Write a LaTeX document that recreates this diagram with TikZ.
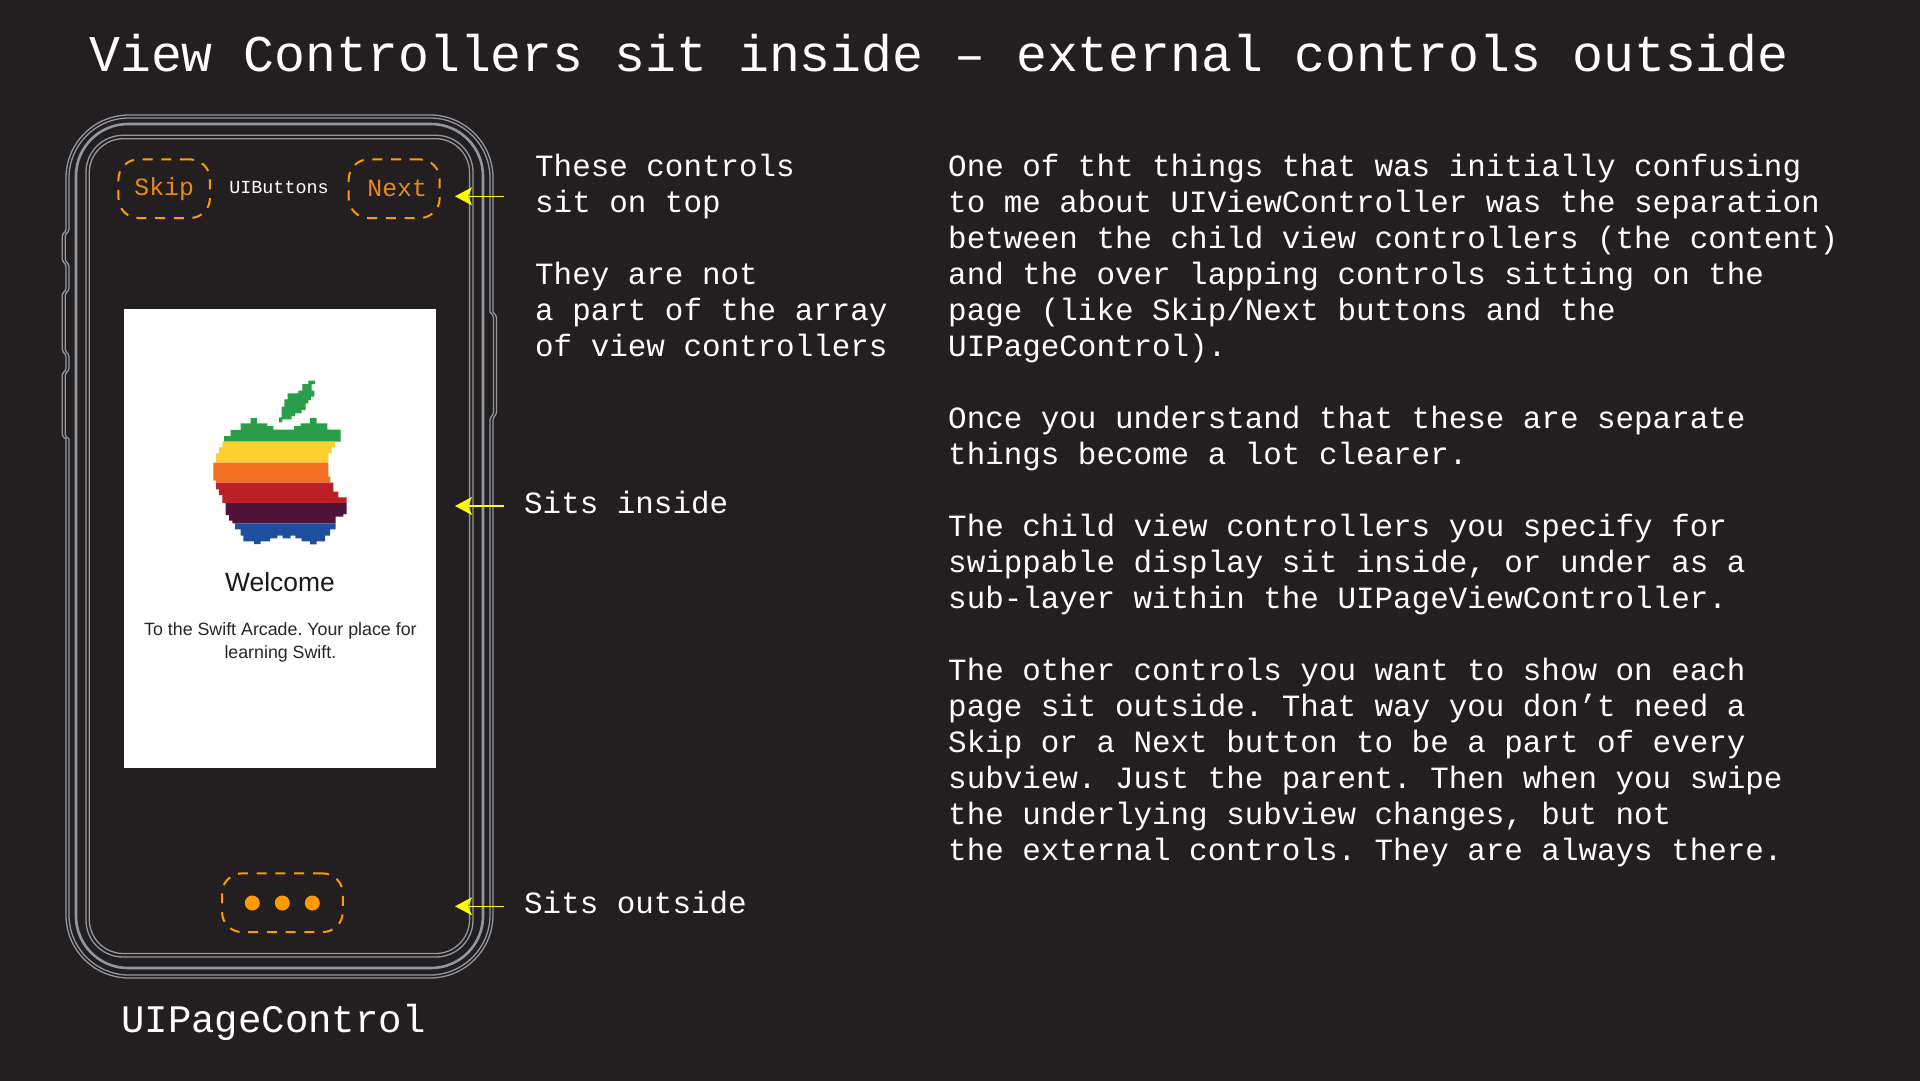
\documentclass[tikz,border=0pt]{standalone}
\usepackage{fontspec}
\setmainfont{Liberation Sans}
\newfontfamily\monof{Liberation Mono}
\usetikzlibrary{arrows.meta}
\definecolor{bgc}{HTML}{231F20}
\definecolor{phonec}{HTML}{92979E}
\definecolor{dashc}{HTML}{FF9A00}
\definecolor{labelc}{HTML}{E8891C}
\definecolor{arrowc}{HTML}{FFFF00}
\definecolor{apgreen}{HTML}{2A9D48}
\definecolor{apyellow}{HTML}{FCD02E}
\definecolor{aporange}{HTML}{F37021}
\definecolor{apred}{HTML}{BC2026}
\definecolor{appurple}{HTML}{4F1339}
\definecolor{apblue}{HTML}{1F4F9F}
\tikzset{
  shellthin/.style={draw=phonec,line width=1.3pt},
  shellthick/.style={draw=phonec,line width=2.6pt},
  dashbox/.style={draw=dashc,line width=2pt,dash pattern=on 10pt off 8.7pt,rounded corners=20pt,inner sep=0pt,
     font=\monof\fontsize{24.8}{28}\selectfont,text=labelc},
  dotmark/.style={circle,fill=dashc,inner sep=0pt,minimum size=15pt},
  body/.style={font=\monof\fontsize{30.9}{36}\selectfont,text=white,align=left,inner sep=0pt,anchor=north west},
  pointer/.style={draw=arrowc,line width=1.5pt,-{Stealth[length=17pt,width=18pt,inset=4pt]}},
}
\begin{document}
\frenchspacing
\begin{tikzpicture}[x=1pt,y=-1pt]
\useasboundingbox (0,0) rectangle (1920,1080);
\fill[bgc] (-6,-6) rectangle (1926,1086);

% phone outline
\foreach \d in {0,3}{
\pgfmathsetmacro{\xl}{66+\d}
\pgfmathsetmacro{\xr}{493-\d}
\pgfmathsetmacro{\yt}{115+\d}
\pgfmathsetmacro{\yb}{978-\d}
\pgfmathsetmacro{\rr}{63-\d}
\pgfmathsetmacro{\kk}{0.4477*\rr}
\draw[shellthin] (\xl,{\yt+\rr}) .. controls (\xl,{\yt+\kk}) and ({\xl+\kk},\yt) .. ({\xl+\rr},\yt)
   -- ({\xr-\rr},\yt) .. controls ({\xr-\kk},\yt) and (\xr,{\yt+\kk}) .. (\xr,{\yt+\rr})
   -- (\xr,312) [rounded corners=1.5pt] -- ({\xr+3.5},316) -- ({\xr+3.5},414) -- (\xr,418) [sharp corners]
   -- (\xr,{\yb-\rr}) .. controls (\xr,{\yb-\kk}) and ({\xr-\kk},\yb) .. ({\xr-\rr},\yb)
   -- ({\xl+\rr},\yb) .. controls ({\xl+\kk},\yb) and (\xl,{\yb-\kk}) .. (\xl,{\yb-\rr})
   -- (\xl,439) [rounded corners=1.5pt] -- ({\xl-3.7},436) -- ({\xl-3.7},373.5) -- (\xl,370) -- (\xl,355)
   -- ({\xl-3.7},351) -- ({\xl-3.7},293.5) -- (\xl,290) -- (\xl,264.5)
   -- ({\xl-3.7},261) -- ({\xl-3.7},234.5) -- (\xl,231) [sharp corners] -- (\xl,{\yt+\rr});
}
\draw[shellthick,rounded corners=52pt] (76,124) rectangle (483,968);
\draw[shellthin,rounded corners=37pt] (86,135.3) rectangle (473,957);
\draw[shellthin,rounded corners=34pt] (89.3,138.7) rectangle (469.6,953.5);

% screen
\node[fill=white,draw=none,inner sep=0pt,minimum width=312pt,minimum height=458.7pt] (screen) at (279.6,538.7) {};

% apple
\begin{scope}[xshift=190pt,yshift=-360pt,x=0.33333pt,y=-0.33333pt]
\fill[apgreen] (355,62)--(375,62)--(375,72)--(365,72)--(365,92)--(373,92)--(373,110)--(363,110)--(363,120)--(355,120)--(355,130)--(347,130)--(347,150)--(335,150)--(335,160)--(315,160)--(315,168)--(305,168)--(305,178)--(277,178)--(277,187)--(267,187)--(267,172)--(275,172)--(275,140)--(283,140)--(283,118)--(293,118)--(293,100)--(325,100)--(325,92)--(337,92)--(337,72)--(355,72)--cycle;
\fill[apgreen] (102,245)--(102,228)--(122,228)--(122,210)--(152,210)--(152,190)--(182,190)--(182,174)--(201,174)--(201,190)--(232,190)--(232,198)--(250,198)--(250,209)--(312,209)--(312,198)--(332,198)--(332,190)--(360,190)--(360,174)--(380,174)--(380,190)--(412,190)--(412,209)--(452,209)--(452,245)--cycle;
\fill[apyellow] (97,245)--(97,262)--(87,262)--(87,280)--(78,280)--(78,308)--(415,308)--(415,280)--(425,280)--(425,262)--(435,262)--(435,245)--cycle;
\fill[aporange] (70,308)--(70,362)--(78,362)--(78,368)--(421,368)--(421,350)--(415,350)--(415,308)--cycle;
\fill[apred] (78,368)--(78,388)--(87,388)--(87,405)--(97,405)--(97,429)--(470,429)--(470,412)--(445,412)--(445,395)--(430,395)--(430,368)--cycle;
\fill[appurple] (107,429)--(107,465)--(117,465)--(117,482)--(127,482)--(127,490)--(437,490)--(437,470)--(460,470)--(460,462)--(470,462)--(470,429)--cycle;
\fill[apblue] (135,490)--(135,508)--(152,508)--(152,527)--(160,527)--(160,544)--(192,544)--(192,552)--(212,552)--(212,544)--(240,544)--(240,535)--(262,535)--(262,527)--(278,527)--(278,535)--(302,535)--(302,527)--(316,527)--(316,535)--(335,535)--(335,544)--(360,544)--(360,553)--(380,553)--(380,544)--(405,544)--(405,527)--(420,527)--(420,508)--(437,508)--(437,490)--cycle;
\end{scope}

\node[anchor=base,inner sep=0pt,text=black!90,font=\fontsize{26.4}{32}\selectfont] (welcome) at (280,591) {Welcome};
\node[anchor=base,inner sep=0pt,text=black!85,font=\fontsize{17.8}{20}\selectfont] (welcomeA) at (280.4,635.5) {To the Swift Arcade. Your place for};
\node[anchor=base,inner sep=0pt,text=black!85,font=\fontsize{17.8}{20}\selectfont] (welcomeB) at (280.4,658) {learning Swift.};

% title
\node[anchor=base west,inner sep=0pt,text=white,font=\monof\fontsize{51.5}{60}\selectfont] (title) at (89,71) {View Controllers sit inside – external controls outside};

% dashed controls
\node[dashbox,minimum width=91.5pt,minimum height=58.7pt] (skip) at (164.2,188.7) {Skip};
\node[dashbox,minimum width=91pt,minimum height=58.7pt] (next) at (394.2,188.7) {\hspace*{6pt}Next};
\node[dashbox,minimum width=120.7pt,minimum height=58.7pt] (pagebox) at (282.4,902.7) {};
\node[dotmark] (dotA) at (252.3,903) {};
\node[dotmark] (dotB) at (282.3,903) {};
\node[dotmark] (dotC) at (312.3,903) {};
\node[anchor=base,inner sep=0pt,text=white,font=\monof\fontsize{18.4}{22}\selectfont] (uibuttons) at (279,193) {UIButtons};
\node[anchor=base west,inner sep=0pt,text=white,font=\monof\fontsize{39}{44}\selectfont] (uipage) at (121,1032.7) {UIPageControl};

% arrows
\coordinate (aTop) at (504,196.3);
\coordinate (aTopEnd) at (455,196.3);
\coordinate (aIn) at (504,506);
\coordinate (aInEnd) at (455,506);
\coordinate (aOut) at (504,906.3);
\coordinate (aOutEnd) at (455,906.3);
\draw[pointer] (aTop) -- (aTopEnd);
\draw[pointer] (aIn) -- (aInEnd);
\draw[pointer] (aOut) -- (aOutEnd);

% text
\node[body] (notes) at (535,151) {\strut These controls\\sit on top\\[36pt]They are not\\a part of the array\\of view controllers};
\node[body] (inside) at (524,488.5) {\strut Sits inside};
\node[body] (outside) at (524,888.5) {\strut Sits outside};
\node[body] (explain) at (948,151) {\strut One of tht things that was initially confusing\\to me about UIViewController was the separation\\between the child view controllers (the content)\\and the over lapping controls sitting on the\\page (like Skip/Next buttons and the\\UIPageControl).\\[36pt]Once you understand that these are separate\\things become a lot clearer.\\[36pt]The child view controllers you specify for\\swippable display sit inside, or under as a\\sub-layer within the UIPageViewController.\\[36pt]The other controls you want to show on each\\page sit outside. That way you don’t need a\\Skip or a Next button to be a part of every\\subview. Just the parent. Then when you swipe\\the underlying subview changes, but not\\the external controls. They are always there.};
\end{tikzpicture}
\end{document}
